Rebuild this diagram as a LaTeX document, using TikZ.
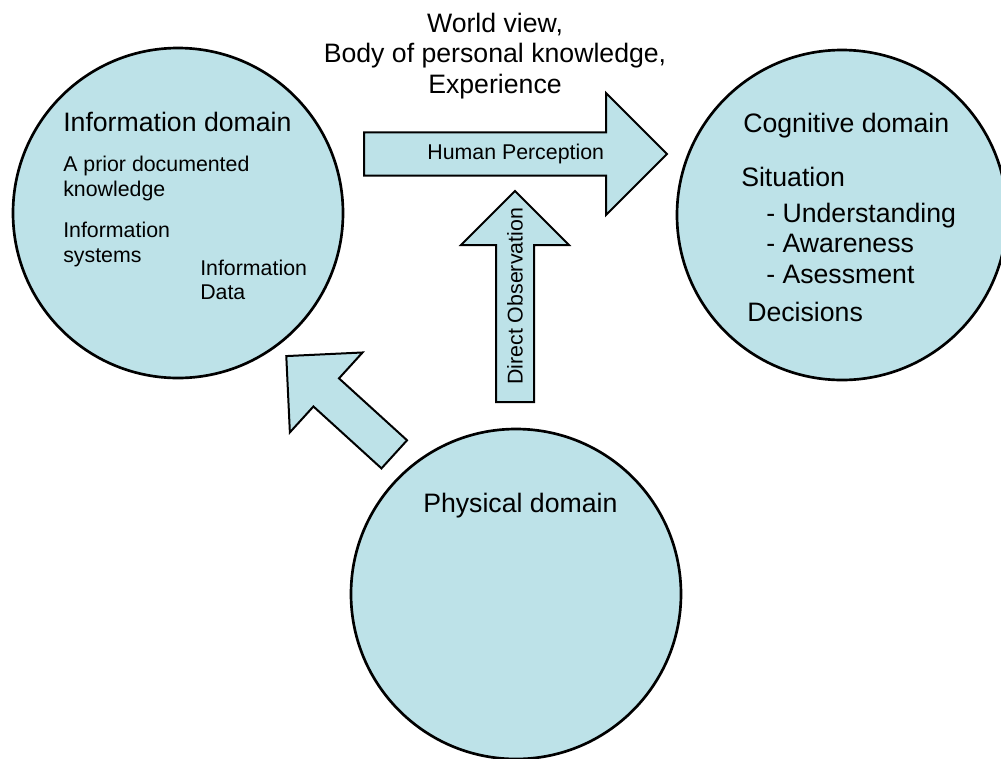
\documentclass[tikz,border=0pt]{standalone}
\usepackage{fontspec}
\setmainfont{Liberation Sans}
\usetikzlibrary{shapes.arrows}
\definecolor{domainblue}{RGB}{189,226,232}

\begin{document}
\begin{tikzpicture}[
        x=0.75pt, y=0.75pt,
        domaincircle/.style = {
            draw, 
            circle, 
            fill=domainblue, 
            line width=2pt, 
            minimum size=247.5pt, 
            inner sep=0pt
        },
        bigarrow/.style = {draw, single arrow, fill=domainblue, line width=1.5pt, inner xsep=0pt, inner ysep=13.5pt, anchor=tail},
        heading/.style = {anchor=base west, inner sep=0pt, font=\fontsize{20}{24}\selectfont},
        item/.style = {anchor=base west, inner sep=0pt, font=\fontsize{16}{19}\selectfont},
        arrowtext/.style = {midway, inner sep=0pt, font=\fontsize{16}{19}\selectfont}
    ]
    \useasboundingbox (0,0) rectangle (1001,-758);

    % Domains
    \node[domaincircle] (info) at (178,-213) {};
    \node[domaincircle] (cognitive) at (842,-215) {};
    \node[domaincircle] (physical) at (516,-594) {};

    % Information domain
    \node[heading] (infotitle) at (63,-131) {Information domain};
    \node[item] (prior1) at (63,-171) {A prior documented};
    \node[item] (prior2) at (63,-196) {knowledge};
    \node[item] (systems1) at (63,-237) {Information};
    \node[item] (systems2) at (63,-262) {systems};
    \node[item] (data1) at (200,-275) {Information};
    \node[item] (data2) at (200,-299) {Data};

    % Cognitive domain
    \node[heading] (cogtitle) at (743,-132) {Cognitive domain};
    \node[heading] (situation) at (741,-186) {Situation};
    \node[heading] (understand) at (766,-222) {- Understanding};
    \node[heading] (aware) at (766,-252) {- Awareness};
    \node[heading] (assess) at (766,-283) {- Asessment};
    \node[heading] (decide) at (747,-321) {Decisions};

    % Physical domain
    \node[heading] (phystitle) at (423,-512) {Physical domain};

    % Arrows
    \node[bigarrow, inner ysep=15.4pt, minimum height=227.25pt, minimum width=90pt, single arrow head extend=29.6pt] (perceive) at (363,-154) {};
    \node[bigarrow, minimum height=158.25pt, minimum width=79.5pt, single arrow head extend=26.25pt, rotate=90] (observe) at (515,-403) {};
    \node[bigarrow, minimum height=109.5pt, minimum width=79.5pt, single arrow head extend=26.25pt, rotate=137.7] (record) at (395,-455) {};

    \path (perceive.tail) -- (perceive.tip) node[arrowtext] (perception) {Human Perception};
    \path (observe.tail) -- (observe.tip) node[arrowtext, rotate=90] (observation) {Direct Observation};

    % World view
    \node[heading, anchor=base] (world1) at (495,-32) {World view,};
    \node[heading, anchor=base] (world2) at (495,-62) {Body of personal knowledge,};
    \node[heading, anchor=base] (world3) at (495,-93) {Experience};

\end{tikzpicture}
\end{document}
